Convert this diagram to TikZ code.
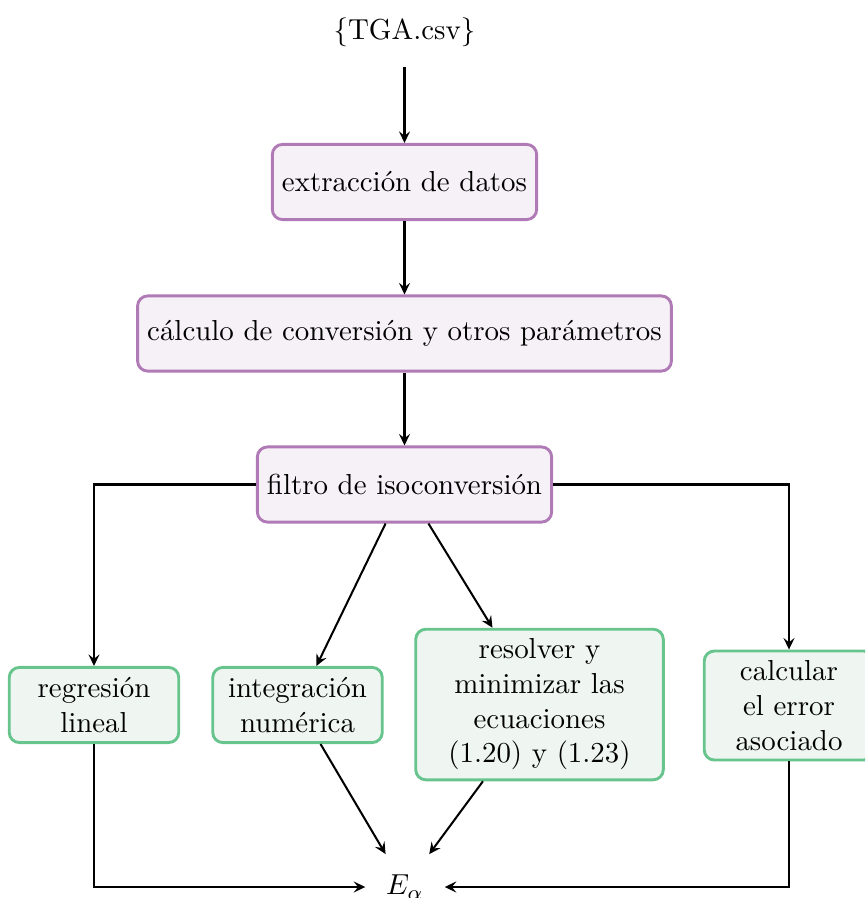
\documentclass[tikz,border=0pt]{standalone}
\usepackage{fontspec}
\usetikzlibrary{arrows.meta}
\definecolor{pdraw}{RGB}{176,122,182}
\definecolor{pfill}{RGB}{246,240,247}
\definecolor{gdraw}{RGB}{102,196,140}
\definecolor{gfill}{RGB}{239,246,242}
\tikzset{
  pbox/.style={draw=pdraw, fill=pfill, line width=1pt, rounded corners=3.5pt, minimum height=26pt, align=center},
  gbox/.style={draw=gdraw, fill=gfill, line width=1pt, rounded corners=3.5pt, minimum height=26pt, align=center},
  iotext/.style={inner sep=7pt},
  conn/.style={-{Stealth[length=4pt, width=3.8pt, inset=1.5pt]}, line width=0.7pt}
}
\begin{document}
\begin{tikzpicture}[x=0.346pt, y=-0.346pt]
\useasboundingbox (0,0) rectangle (865,898);
\begin{scope}
\clip (0,0) rectangle (865,898);
\node[iotext] (tga) at (404.5,32) {\{TGA.csv\}};
\node[pbox] (ext) at (404.5,182) {extracción de datos};
\node[pbox] (calc) at (404.5,333.5) {cálculo de conversión y otros parámetros};
\node[pbox] (filt) at (404.5,484.5) {filtro de isoconversión};
\node[gbox, text width=52pt] (reg) at (94,705) {regresión\\lineal};
\node[gbox, text width=52pt] (int) at (297.5,705) {integración\\numérica};
\node[gbox, text width=79pt] (res) at (539.5,704.5) {resolver y\\minimizar las\\ecuaciones\\(1.20) y (1.23)};
\node[gbox, text width=52pt] (err) at (789,705.5) {calcular\\el error\\asociado};
\node[iotext] (E) at (405,887) {$E_\alpha$};
\draw[conn] (tga) -- (ext);
\draw[conn] (ext) -- (calc);
\draw[conn] (calc) -- (filt);
\draw[conn] (filt.west) -| (reg.north);
\draw[conn] (filt.east) -| (err.north);
\draw[conn] (filt) -- (int);
\draw[conn] (filt) -- (res);
\draw[conn] (int) -- (E);
\draw[conn] (res) -- (E);
\draw[conn] (reg.south) |- (E.west);
\draw[conn] (err.south) |- (E.east);
\end{scope}
\end{tikzpicture}
\end{document}
